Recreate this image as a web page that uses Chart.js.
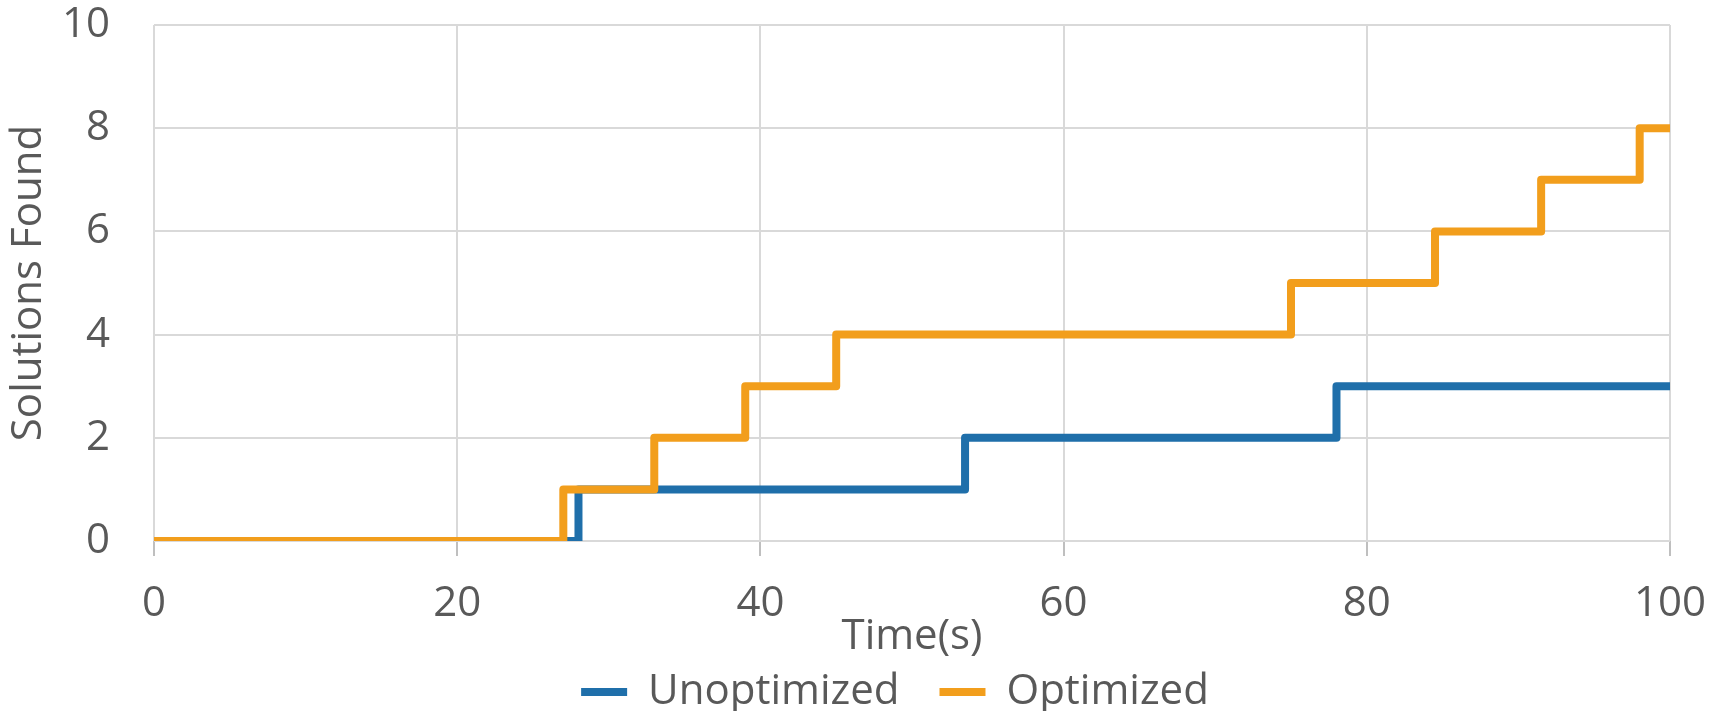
<!DOCTYPE html>
<html lang="en">
<head>
    <meta charset="UTF-8">
    <title>Solutions Found over Time</title>
    <script src="https://cdn.jsdelivr.net/npm/chart.js"></script>
    <style>
        html, body {
            margin: 0;
            padding: 0;
            background-color: #ffffff;
        }
        .chart-box {
            width: 1721px;
            height: 711px;
        }
    </style>
</head>
<body>
    <div class="chart-box">
        <canvas id="stepChart"></canvas>
    </div>

    <script>
        // step times (s) and cumulative solutions found
        var optimizedTimes = [0, 27, 33, 39, 45, 75, 84.5, 91.5, 98, 100];
        var optimizedCounts = [0, 1, 2, 3, 4, 5, 6, 7, 8, 8];
        var unoptimizedTimes = [0, 28, 53.5, 78, 100];
        var unoptimizedCounts = [0, 1, 2, 3, 3];
        var xTicks = [0, 20, 40, 60, 80, 100];
        var yTicks = [0, 2, 4, 6, 8, 10];

        function toPoints(xs, ys) {
            return xs.map(function(x, i) { return {x: x, y: ys[i]}; });
        }

        var textColor = '#595959';
        var fontFamily = "'Open Sans', 'Noto Sans', sans-serif";

        // the legend sits a bit right of the canvas centre in the original
        var legendShift = {
            id: 'legendShift',
            afterLayout: function(chart) {
                chart.legend.left += 56;
                chart.legend.right += 56;
            }
        };

        var ctx = document.getElementById('stepChart').getContext('2d');
        var stepChart = new Chart(ctx, {
            type: 'line',
            data: {
                // orange listed first so it is drawn on top; legend is reversed
                datasets: [{
                    label: 'Optimized',
                    data: toPoints(optimizedTimes, optimizedCounts),
                    borderColor: '#F29E1C',
                    backgroundColor: '#F29E1C',
                    borderWidth: 8,
                    stepped: true,
                    pointRadius: 0,
                    borderJoinStyle: 'round',
                    borderCapStyle: 'butt'
                }, {
                    label: 'Unoptimized',
                    data: toPoints(unoptimizedTimes, unoptimizedCounts),
                    borderColor: '#1F6FAA',
                    backgroundColor: '#1F6FAA',
                    borderWidth: 8,
                    stepped: true,
                    pointRadius: 0,
                    borderJoinStyle: 'round',
                    borderCapStyle: 'butt'
                }]
            },
            plugins: [legendShift],
            options: {
                responsive: true,
                maintainAspectRatio: false,
                animation: false,
                layout: {
                    padding: {left: 8, right: 51, top: 0, bottom: -12}
                },
                plugins: {
                    tooltip: {enabled: false},
                    legend: {
                        position: 'bottom',
                        reverse: true,
                        labels: {
                            usePointStyle: true,
                            pointStyle: 'line',
                            pointStyleWidth: 46,
                            color: textColor,
                            padding: 40,
                            font: {family: fontFamily, size: 42, lineHeight: 1}
                        }
                    }
                },
                scales: {
                    x: {
                        type: 'linear',
                        min: 0,
                        max: 100,
                        afterBuildTicks: function(scale) {
                            scale.ticks = xTicks.map(function(v) { return {value: v}; });
                        },
                        afterFit: function(scale) {
                            scale.height = 90;
                            scale.paddingRight = 0;
                        },
                        grid: {
                            color: '#d9d9d9',
                            lineWidth: 2,
                            tickLength: 15,
                            tickColor: '#bfbfbf'
                        },
                        border: {display: false},
                        ticks: {
                            color: textColor,
                            padding: 27,
                            maxRotation: 0,
                            font: {family: fontFamily, size: 42, lineHeight: 1}
                        },
                        title: {
                            display: true,
                            text: 'Time(s)',
                            color: textColor,
                            padding: {top: 0, bottom: -27},
                            font: {family: fontFamily, size: 42, lineHeight: 1}
                        }
                    },
                    y: {
                        min: 0,
                        max: 10,
                        afterBuildTicks: function(scale) {
                            scale.ticks = yTicks.map(function(v) { return {value: v}; });
                        },
                        afterFit: function(scale) {
                            scale.width = 146;
                        },
                        grid: {
                            color: '#d9d9d9',
                            lineWidth: 2,
                            drawTicks: true,
                            tickLength: 40,
                            tickColor: 'rgba(0,0,0,0)'
                        },
                        border: {display: false},
                        ticks: {
                            color: textColor,
                            padding: 4,
                            font: {family: fontFamily, size: 42, lineHeight: 1}
                        },
                        title: {
                            display: true,
                            text: 'Solutions Found',
                            color: textColor,
                            padding: {top: 0, bottom: 0},
                            font: {family: fontFamily, size: 42, lineHeight: 1}
                        }
                    }
                }
            }
        });
    </script>
</body>
</html>
